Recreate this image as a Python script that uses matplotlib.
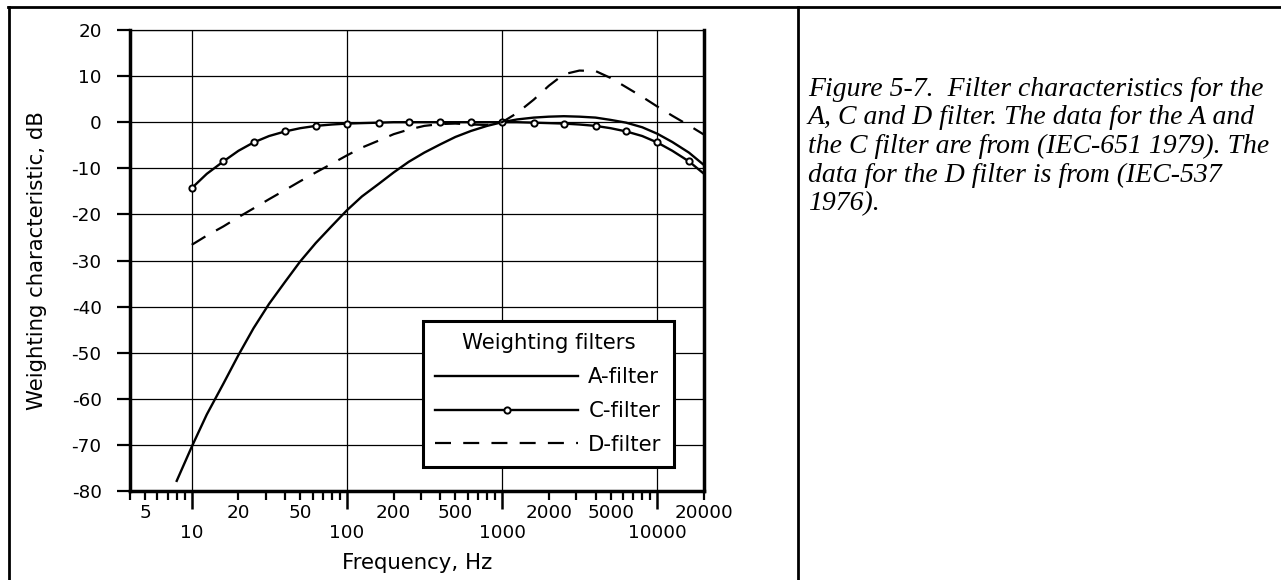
import numpy as np
import matplotlib
matplotlib.use("Agg")
import matplotlib.pyplot as plt
from matplotlib.ticker import LogLocator, FuncFormatter, MultipleLocator
from matplotlib.lines import Line2D

# ---------------- data ----------------
freq_a = [8, 10, 12.5, 16, 20, 25, 31.5, 40, 50, 63, 80, 100, 125, 160, 200, 250, 315,
          400, 500, 630, 800, 1000, 1250, 1600, 2000, 2500, 3150, 4000, 5000, 6300,
          8000, 10000, 12500, 16000, 20000]
a_filter = [-77.8, -70.4, -63.4, -56.7, -50.5, -44.7, -39.4, -34.6, -30.2, -26.2, -22.5,
            -19.1, -16.1, -13.4, -10.9, -8.6, -6.6, -4.8, -3.2, -1.9, -0.8, 0.0, 0.6, 1.0,
            1.2, 1.3, 1.2, 1.0, 0.5, -0.1, -1.1, -2.5, -4.3, -6.6, -9.3]

freq_cd = [10, 12.5, 16, 20, 25, 31.5, 40, 50, 63, 80, 100, 125, 160, 200, 250, 315,
           400, 500, 630, 800, 1000, 1250, 1600, 2000, 2500, 3150, 4000, 5000, 6300,
           8000, 10000, 12500, 16000, 20000]
c_filter = [-14.3, -11.2, -8.5, -6.2, -4.4, -3.0, -2.0, -1.3, -0.8, -0.5, -0.3, -0.2, -0.1,
            0.0, 0.0, 0.0, 0.0, 0.0, 0.0, 0.0, 0.0, 0.0, -0.1, -0.2, -0.3, -0.5, -0.8,
            -1.3, -2.0, -3.0, -4.4, -6.2, -8.5, -11.2]
d_filter = [-26.6, -24.6, -22.6, -20.6, -18.7, -16.7, -14.7, -12.8, -10.9, -9.0, -7.2,
            -5.5, -4.0, -2.6, -1.6, -0.8, -0.4, -0.3, -0.5, -0.6, 0.0, 2.0, 4.9, 7.9,
            10.4, 11.2, 11.1, 9.6, 7.6, 5.5, 3.4, 1.4, -0.7, -2.7]

series_labels = ["A-filter", "C-filter", "D-filter"]
legend_title = "Weighting filters"
x_label = "Frequency, Hz"
y_label = "Weighting characteristic, dB"
caption_lines = [
    "Figure 5-7.  Filter characteristics for the",
    "A, C and D filter. The data for the A and",
    "the C filter are from (IEC-651 1979). The",
    "data for the D filter is from (IEC-537",
    "1976).",
]

# ---------------- figure ----------------
W, H = 1281, 580
plt.rcParams['font.family'] = ['DejaVu Sans']
plt.rcParams['axes.unicode_minus'] = False
fig = plt.figure(figsize=(W / 100, H / 100), dpi=100)

def fx(px):
    return px / W

def fy(py):
    return 1 - py / H

ax_l, ax_r, ax_t, ax_b = 130, 704, 30, 491
ax = fig.add_axes([fx(ax_l), fy(ax_b), (ax_r - ax_l) / W, (ax_b - ax_t) / H])

lw = 1.7
ax.plot(freq_a, a_filter, color='black', lw=lw, label=series_labels[0], zorder=3)
ax.plot(freq_cd, c_filter, color='black', lw=lw, marker='o', markevery=2, markersize=4.5,
        markerfacecolor='white', markeredgecolor='black', markeredgewidth=1.4,
        label=series_labels[1], zorder=3)
ax.plot(freq_cd, d_filter, color='black', lw=1.6, linestyle=(0, (7.2, 5.5)),
        label=series_labels[2], zorder=3)

ax.set_xscale('log')
ax.set_xlim(4, 20000)
ax.set_ylim(-80, 20)

ax.xaxis.set_major_locator(LogLocator(base=10, numticks=20))
ax.xaxis.set_minor_locator(LogLocator(base=10, subs=np.arange(2, 10), numticks=200))
ax.xaxis.set_major_formatter(FuncFormatter(lambda v, p: f"{v:g}"))

def minor_fmt(v, p):
    m = v / 10 ** np.floor(np.log10(v) + 1e-9)
    if abs(m - 2) < 1e-6 or abs(m - 5) < 1e-6:
        return f"{int(round(v))}"
    return ""

ax.xaxis.set_minor_formatter(FuncFormatter(minor_fmt))
ax.yaxis.set_major_locator(MultipleLocator(10))

tick_fs = 13.2
ax.tick_params(axis='x', which='major', length=13, width=1.8, direction='out',
               pad=11, labelsize=tick_fs, color='black')
ax.tick_params(axis='x', which='minor', length=6.5, width=1.6, direction='out',
               pad=3, labelsize=tick_fs, color='black')
ax.tick_params(axis='y', which='major', length=9.4, width=1.6, direction='out',
               pad=11, labelsize=tick_fs, color='black')
ax.tick_params(axis='y', which='minor', left=False)

ax.grid(True, which='major', color='black', linewidth=0.9)
ax.grid(False, which='minor')

for s in ['left', 'bottom', 'right']:
    ax.spines[s].set_linewidth(2.5)
ax.spines['top'].set_linewidth(0.9)

label_fs = 15.3
ax.set_xlabel(x_label, fontsize=label_fs)
ax.xaxis.set_label_coords(0.5, -0.135)
ax.set_ylabel(y_label, fontsize=label_fs)
ax.yaxis.set_label_coords(-0.145, 0.5)

leg = ax.legend(title=legend_title, fontsize=label_fs, title_fontsize=label_fs,
                loc='upper left', bbox_to_anchor=((423 - ax_l) / (ax_r - ax_l),
                                                  (ax_b - 321) / (ax_b - ax_t)),
                borderaxespad=0, numpoints=1, handlelength=6.7, handletextpad=0.5,
                fancybox=False, framealpha=1, edgecolor='black', borderpad=0.58,
                labelspacing=0.65, alignment='center')
leg.get_frame().set_linewidth(2.2)
leg.set_zorder(5)

# caption
baselines = [96, 124.5, 153, 181.5, 210]
for line, b in zip(caption_lines, baselines):
    fig.text(fx(808), fy(b), line, fontsize=20, family='Liberation Serif',
             style='italic', va='baseline', ha='left')

# outer frame
frame_kw = dict(color='black', linewidth=2.0, transform=fig.transFigure)
fig.add_artist(Line2D([fx(8.5), fx(8.5)], [fy(7.3), 0], **frame_kw))
fig.add_artist(Line2D([fx(7.5), 1], [fy(7.3), fy(7.3)], **frame_kw))
fig.add_artist(Line2D([fx(797.7), fx(797.7)], [fy(7.3), 0], **frame_kw))

fig.savefig("out.png", dpi=100)
